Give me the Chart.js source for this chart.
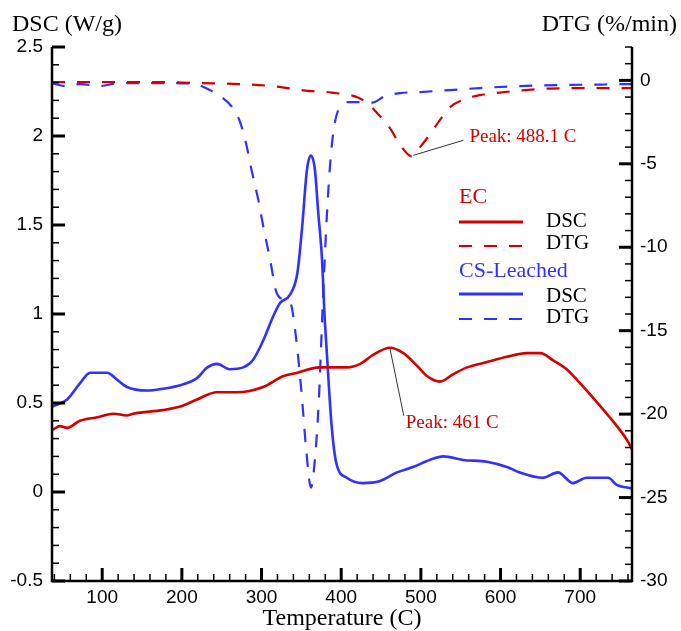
<!DOCTYPE html>
<html>
<head>
<meta charset="utf-8">
<script src="https://cdn.jsdelivr.net/npm/chart.js@4.4.1/dist/chart.umd.min.js"></script>
<style>
  html, body { margin: 0; padding: 0; background: #fff; }
  #wrap { width: 681px; height: 631px; }
</style>
</head>
<body>
<div id="wrap"><canvas id="thermoChart" width="681" height="631"></canvas></div>
<script>
// EC sample, DSC (W/g)
const ecDscTemp = [38, 47, 56, 72, 94, 114, 131, 139, 176, 198, 219, 244, 269, 302, 327, 345, 373, 407, 424, 440, 461, 478, 495, 508, 524, 540, 558, 583, 608, 633, 650, 666, 683, 700, 716, 737, 759, 765];
const ecDscVal  = [0.35, 0.37, 0.36, 0.40, 0.42, 0.44, 0.43, 0.44, 0.46, 0.48, 0.52, 0.56, 0.56, 0.59, 0.65, 0.67, 0.70, 0.70, 0.72, 0.77, 0.81, 0.78, 0.71, 0.65, 0.62, 0.66, 0.70, 0.73, 0.76, 0.78, 0.78, 0.74, 0.69, 0.61, 0.53, 0.42, 0.29, 0.24];

// EC sample, DTG (%/min)
const ecDtgTemp = [37, 97, 160, 223, 286, 319, 355, 388, 421, 434, 446, 461, 474, 488.1, 496, 509, 524, 537, 555, 574, 599, 624, 662, 725, 765];
const ecDtgVal  = [-0.10, -0.10, -0.10, -0.16, -0.25, -0.37, -0.61, -0.73, -1.03, -1.42, -2.01, -2.85, -3.87, -4.55, -4.17, -3.39, -2.37, -1.59, -1.12, -0.88, -0.73, -0.61, -0.49, -0.46, -0.46];

// CS-Leached sample, DSC (W/g)
const csDscTemp = [38, 56, 72, 85, 106, 119, 131, 156, 176, 198, 219, 232, 244, 260, 277, 289, 302, 314, 323, 336, 345, 351, 357, 362, 367, 371, 376, 379, 382, 388, 394, 407, 427, 448, 470, 490, 511, 528, 553, 583, 608, 624, 653, 672, 691, 708, 735, 746, 765];
const csDscVal  = [0.48, 0.52, 0.61, 0.67, 0.67, 0.63, 0.59, 0.57, 0.58, 0.60, 0.64, 0.70, 0.72, 0.69, 0.70, 0.74, 0.85, 0.98, 1.06, 1.11, 1.23, 1.49, 1.81, 1.89, 1.81, 1.58, 1.30, 1.00, 0.78, 0.37, 0.16, 0.08, 0.05, 0.06, 0.11, 0.14, 0.18, 0.20, 0.18, 0.17, 0.14, 0.11, 0.08, 0.11, 0.05, 0.08, 0.08, 0.04, 0.02];

// CS-Leached sample, DTG (%/min)
const csDtgTemp = [37, 53, 72, 97, 122, 185, 216, 235, 250, 263, 273, 281, 288, 296, 303, 311, 318, 326, 336, 343, 350, 356, 362, 367, 372, 377, 382, 387, 392, 398, 411, 430, 439, 455, 474, 499, 537, 574, 624, 675, 725, 765];
const csDtgVal  = [-0.16, -0.34, -0.22, -0.34, -0.16, -0.16, -0.22, -0.58, -1.00, -1.59, -2.49, -3.87, -5.49, -7.17, -8.96, -10.8, -12.6, -13.1, -13.3, -15.3, -18.6, -22.1, -24.4, -22.7, -19.1, -13.2, -8.1, -4.5, -2.55, -1.65, -1.30, -1.30, -1.33, -0.94, -0.76, -0.70, -0.58, -0.46, -0.34, -0.28, -0.25, -0.22];

// annotated peaks (EC DSC, EC DTG)
const peakTemps  = [461, 488.1];
const peakLabels = ['Peak: 461 C', 'Peak: 488.1 C'];

const RED = '#d40000';
const BLUE = '#3030ff';
const SERIF = '"Liberation Serif", "Times New Roman", serif';
const SANS = '"Liberation Sans", Arial, sans-serif';

function toPoints(xs, ys) {
    return xs.map((t, i) => ({ x: t, y: ys[i] }));
}

// axes with inward ticks, titles, legend and peak callouts
const decorations = {
    id: 'decorations',
    afterDraw(chart) {
        const { ctx, chartArea: a, scales } = chart;
        const sx = scales.x, yl = scales.y, yr = scales.y2;
        ctx.save();

        ctx.strokeStyle = '#000';
        ctx.lineCap = 'butt';
        ctx.lineWidth = 2.5;
        ctx.beginPath();
        ctx.moveTo(a.left, a.top);
        ctx.lineTo(a.left, a.bottom);
        ctx.lineTo(a.right, a.bottom);
        ctx.lineTo(a.right, a.top);
        ctx.stroke();

        function tick(x1, y1, x2, y2, w) {
            ctx.lineWidth = w;
            ctx.beginPath();
            ctx.moveTo(x1, y1);
            ctx.lineTo(x2, y2);
            ctx.stroke();
        }
        for (let v = -5; v <= 25; v++) {
            const y = yl.getPixelForValue(v / 10);
            const major = v % 5 === 0;
            tick(a.left, y, a.left + (major ? 13 : 7), y, major ? 3 : 1.5);
        }
        for (let v = -30; v <= 2; v++) {
            const y = yr.getPixelForValue(v);
            const major = v % 5 === 0;
            tick(a.right, y, a.right - (major ? 13 : 7), y, major ? 3 : 1.5);
        }
        for (let v = 40; v <= 760; v += 20) {
            const x = sx.getPixelForValue(v);
            const major = v % 100 === 0;
            tick(x, a.bottom, x, a.bottom - (major ? 13 : 7), major ? 3 : 1.5);
        }

        // axis titles
        ctx.fillStyle = '#000';
        ctx.font = '24px ' + SERIF;
        ctx.textBaseline = 'alphabetic';
        ctx.textAlign = 'left';
        ctx.fillText('DSC (W/g)', 12, 31);
        ctx.textAlign = 'right';
        ctx.fillText('DTG (%/min)', 677, 31);
        ctx.textAlign = 'center';
        ctx.fillText('Temperature (C)', (a.left + a.right) / 2, 625);

        // legend
        ctx.textAlign = 'left';
        const lx0 = 459, lx1 = 523, tx = 546;
        function sample(color, dashed, y) {
            ctx.strokeStyle = color;
            ctx.lineWidth = dashed ? 2.2 : 2.8;
            ctx.setLineDash(dashed ? [13, 12] : []);
            ctx.beginPath();
            ctx.moveTo(lx0, y);
            ctx.lineTo(lx1, y);
            ctx.stroke();
            ctx.setLineDash([]);
        }
        ctx.font = '22px ' + SERIF;
        ctx.fillStyle = RED;
        ctx.fillText('EC', lx0, 203);
        ctx.fillStyle = BLUE;
        ctx.fillText('CS-Leached', lx0, 277);
        ctx.font = '21px ' + SERIF;
        ctx.fillStyle = '#000';
        ctx.fillText('DSC', tx, 227);
        ctx.fillText('DTG', tx, 249);
        ctx.fillText('DSC', tx, 302);
        ctx.fillText('DTG', tx, 323);
        sample(RED, false, 222);
        sample(RED, true, 246);
        sample(BLUE, false, 294);
        sample(BLUE, true, 319);

        // peak callouts
        const dscPk = { x: sx.getPixelForValue(peakTemps[0]), y: yl.getPixelForValue(ecDscVal[ecDscTemp.indexOf(peakTemps[0])]) };
        const dtgPk = { x: sx.getPixelForValue(peakTemps[1]), y: yr.getPixelForValue(ecDtgVal[ecDtgTemp.indexOf(peakTemps[1])]) };
        ctx.strokeStyle = '#333';
        ctx.lineWidth = 1;
        ctx.beginPath();
        ctx.moveTo(dscPk.x, dscPk.y);
        ctx.lineTo(dscPk.x + 14, dscPk.y + 68);
        ctx.moveTo(dtgPk.x + 2, dtgPk.y - 1);
        ctx.lineTo(dtgPk.x + 52, dtgPk.y - 16);
        ctx.stroke();
        ctx.font = '19px ' + SERIF;
        ctx.fillStyle = RED;
        ctx.fillText(peakLabels[0], dscPk.x + 16, dscPk.y + 80);
        ctx.fillText(peakLabels[1], dtgPk.x + 58, dtgPk.y - 14);

        ctx.restore();
    }
};

function initChart() {
    const ctx = document.getElementById('thermoChart').getContext('2d');
    const tickFont = { family: SANS, size: 19 };
    return new Chart(ctx, {
        type: 'line',
        data: {
            datasets: [{
                label: 'EC DSC',
                data: toPoints(ecDscTemp, ecDscVal),
                borderColor: RED,
                borderWidth: 2.6,
                yAxisID: 'y'
            }, {
                label: 'EC DTG',
                data: toPoints(ecDtgTemp, ecDtgVal),
                borderColor: RED,
                borderWidth: 2.2,
                borderDash: [13, 12],
                yAxisID: 'y2'
            }, {
                label: 'CS-Leached DSC',
                data: toPoints(csDscTemp, csDscVal),
                borderColor: BLUE,
                borderWidth: 2.6,
                yAxisID: 'y'
            }, {
                label: 'CS-Leached DTG',
                data: toPoints(csDtgTemp, csDtgVal),
                borderColor: BLUE,
                borderWidth: 2.2,
                borderDash: [13, 12],
                yAxisID: 'y2'
            }]
        },
        options: {
            responsive: false,
            animation: false,
            devicePixelRatio: 1,
            layout: { padding: { top: 47, left: 0, right: 0, bottom: 0 } },
            elements: {
                point: { radius: 0 },
                line: { cubicInterpolationMode: 'monotone', fill: false }
            },
            plugins: {
                legend: { display: false },
                tooltip: { enabled: false }
            },
            scales: {
                x: {
                    type: 'linear',
                    position: 'bottom',
                    min: 37,
                    max: 765,
                    grid: { display: false, drawTicks: false },
                    border: { display: false },
                    ticks: { stepSize: 100, includeBounds: false, font: tickFont, color: '#000', padding: 5, maxRotation: 0 },
                    afterFit: s => { s.height = 50; }
                },
                y: {
                    type: 'linear',
                    position: 'left',
                    min: -0.5,
                    max: 2.5,
                    grid: { display: false, drawTicks: false },
                    border: { display: false },
                    ticks: {
                        stepSize: 0.5,
                        font: tickFont,
                        color: '#000',
                        padding: 9,
                        callback: v => String(Number(v.toFixed(1)))
                    },
                    afterFit: s => { s.width = 52; }
                },
                y2: {
                    type: 'linear',
                    position: 'right',
                    min: -30,
                    max: 2,
                    grid: { display: false, drawTicks: false },
                    border: { display: false },
                    ticks: { stepSize: 5, includeBounds: false, font: tickFont, color: '#000', padding: 8 },
                    afterFit: s => { s.width = 49; }
                }
            }
        },
        plugins: [decorations]
    });
}

document.addEventListener('DOMContentLoaded', function() {
    initChart();
});
</script>
</body>
</html>
